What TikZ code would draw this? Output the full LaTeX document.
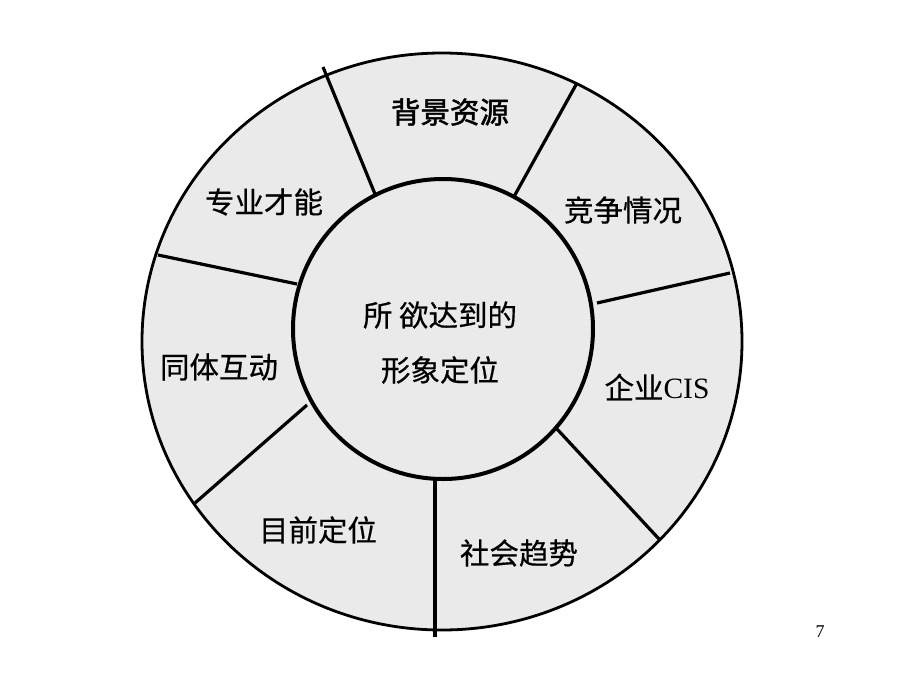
\documentclass[tikz,border=0pt]{standalone}
\usepackage{fontspec}
\setmainfont{Noto Sans CJK SC}[FakeBold=0.5]
\newfontfamily\heavycjk{Noto Sans CJK SC}[FakeBold=1.6]
\newfontfamily\latserif{Liberation Serif}
\definecolor{ringfill}{RGB}{234,234,234}
\begin{document}
\begin{tikzpicture}[x=1pt,y=-1pt,
  lbl/.style={inner sep=0pt,font=\fontsize{29.5}{34}\selectfont},
  divider/.style={line width=3.2pt,black}]
\useasboundingbox (0,0) rectangle (900,675);
% outer ring
\filldraw[fill=ringfill,line width=2.8pt] (442,341.5) ellipse [x radius=300, y radius=288.5];
% dividers
\draw[divider] (323,67) -- (375,194);
\draw[divider] (577,83) -- (511,202);
\draw[divider] (597,303) -- (730,273);
\draw[divider] (557,429) -- (659,539);
\draw[divider] (435,480) -- (435,637);
\draw[divider] (307,405) -- (195,503);
\draw[divider] (158,255) -- (297,284);
% inner circle
\filldraw[fill=ringfill,line width=4pt] (443,329) circle [radius=150];
% labels
\node[lbl,font=\fontsize{29.5}{34}\heavycjk] (bj) at (450,112) {背景资源};
\node[lbl] (jz) at (623,210) {竞争情况};
\node[lbl] (qy) at (657,387) {企业{\latserif CIS}};
\node[lbl] (sh) at (519,553) {社会趋势};
\node[lbl] (mq) at (318,530) {目前定位};
\node[lbl] (tt) at (219,367) {同体互动};
\node[lbl] (zy) at (264,202) {专业才能};
\node[lbl] (c1) at (440,315) {所 欲达到的};
\node[lbl] (c2) at (440,370) {形象定位};
\node[inner sep=0pt,font=\latserif\fontsize{18}{20}\selectfont] (pg) at (820,632) {7};
\end{tikzpicture}
\end{document}
